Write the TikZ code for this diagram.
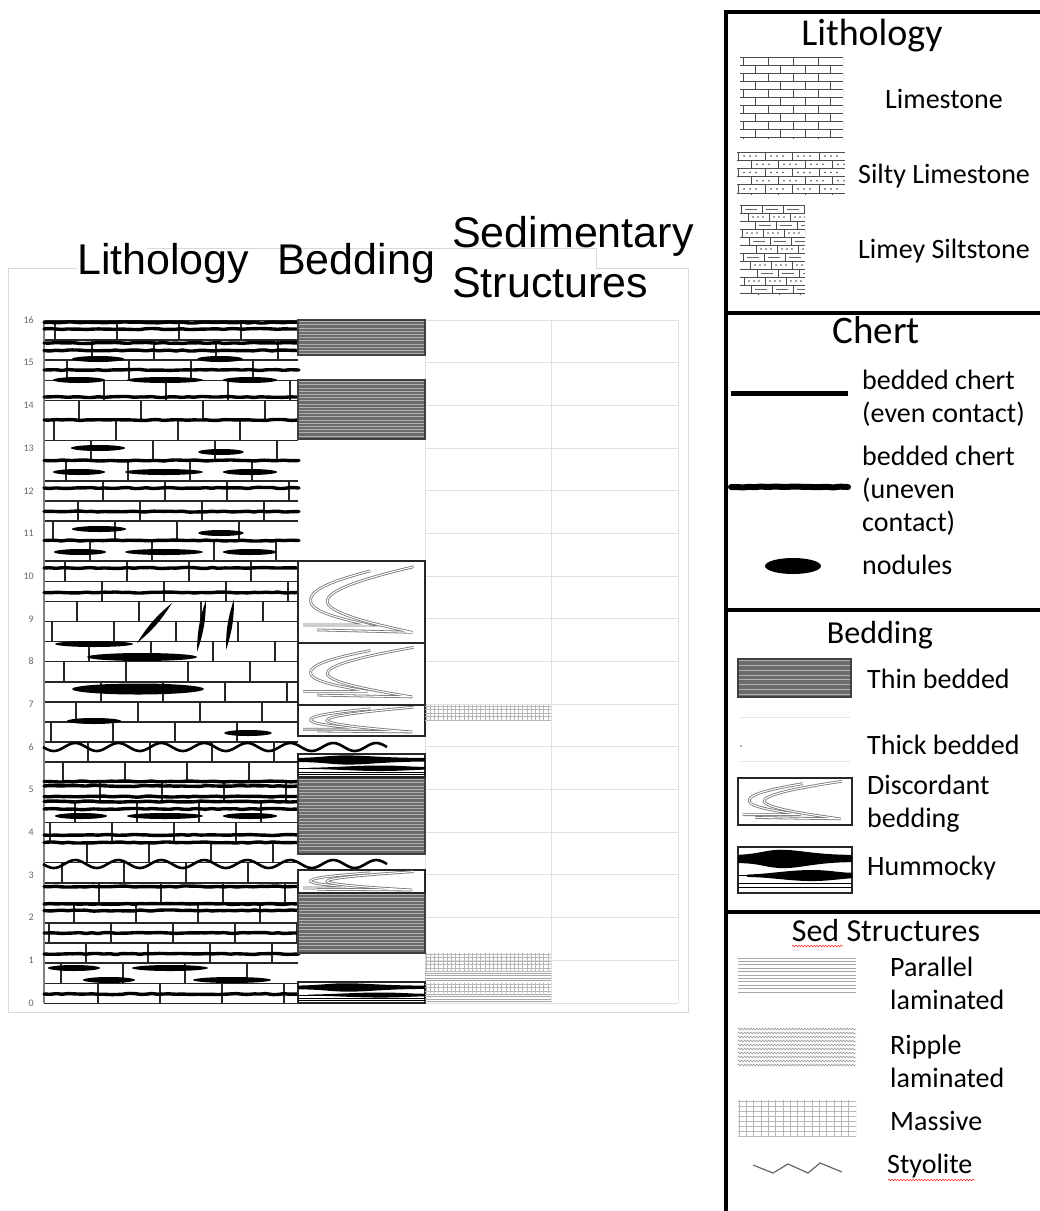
\documentclass[tikz,border=0pt]{standalone}
\usepackage{fontspec}
\setmainfont{Carlito}
\newfontfamily\arialfont{Liberation Sans}
\usetikzlibrary{decorations.pathmorphing}

\tikzset{
  frameline/.style={draw=black!15, line width=0.9},
  gridline/.style={draw=black!12, line width=1},
  brickline/.style={draw=black!85, line width=1.5},
  legbrick/.style={draw=black!70, line width=0.7},
  chertbed/.style={line width=3.4, line cap=round, rounded corners=1.5pt, decorate,
    decoration={random steps, segment length=6pt, amplitude=0.6pt}},
  nodule/.style={fill=black},
  wavyline/.style={line width=2.6, draw=black},
  thinframe/.style={draw=black!75, line width=1.4},
  discframe/.style={draw=black!85, line width=1.4, fill=white},
  discline/.style={draw=black!55, double=white, double distance=1.1pt, line width=0.8},
  hummockframe/.style={draw=black!85, line width=1.4, fill=white},
  massive/.style={draw=black!28, line width=0.5},
  lamina/.style={draw=black!35, line width=0.9},
  legendbox/.style={line width=4.5},
  headtext/.style={font=\arialfont\fontsize{43}{50}\selectfont, anchor=base west, inner sep=0pt},
  axislabel/.style={font=\fontsize{10}{12}\selectfont, text=black!60, anchor=east, inner sep=0pt},
  legtitle/.style={font=\fontsize{38}{44}\selectfont, anchor=base, inner sep=0pt},
  legtext/.style={font=\fontsize{28}{33}\selectfont, anchor=west, align=left, inner sep=0pt},
  squiggle/.style={draw=red!80, line width=0.6, decorate,
    decoration={snake, segment length=3pt, amplitude=0.8pt}},
}

% gray thin-bedded fill with light laminae
\newcommand\thinbedpatch[5]{%
  \begin{scope}
    \clip (#1,#2) rectangle (#3,#4);
    \fill[black!58] (#1,#2) rectangle (#3,#4);
    \foreach \k in {0,...,40}
      \draw[black!30, line width=0.7] (#1,{#2+1.5+\k*#5}) -- (#3,{#2+1.5+\k*#5});
  \end{scope}
  \draw[thinframe] (#1,#2) rectangle (#3,#4);}

% massive = fine gray mesh
\newcommand\massivepatch[6]{%
  \begin{scope}
    \clip (#1,#2) rectangle (#3,#4);
    \foreach \k in {0,...,30}
      \draw[massive] ({#1+1+\k*#5},#2) -- ({#1+1+\k*#5},#4);
    \foreach \k in {0,...,12}
      \draw[massive] (#1,{#2+1+\k*#6}) -- (#3,{#2+1+\k*#6});
  \end{scope}}

\newcommand\parallelpatch[5]{%
  \begin{scope}
    \clip (#1,#2) rectangle (#3,#4);
    \foreach \k in {0,...,14}
      \draw[lamina] (#1,{#2+1+\k*#5}) -- (#3,{#2+1+\k*#5});
  \end{scope}}

% discordant bedding box: x y w h
\newcommand\drawdisc[4]{%
  \begin{scope}[shift={(#1,#2)}, x=#3pt, y=-#4pt]
    \draw[discframe] (0,0) rectangle (1,1);
    \draw[discline] (0.57,0.12) .. controls (0.25,0.25) and (0.08,0.36) .. (0.1,0.5)
      .. controls (0.12,0.64) and (0.4,0.72) .. (0.55,0.78) -- (0.04,0.78);
    \draw[discline] (0.91,0.07) .. controls (0.5,0.22) and (0.22,0.36) .. (0.23,0.5)
      .. controls (0.25,0.66) and (0.7,0.8) .. (0.9,0.87) -- (0.15,0.84);
  \end{scope}}

% hummocky box: x y w h
\newcommand\drawhummock[4]{%
  \begin{scope}[shift={(#1,#2)}, x=#3pt, y=-#4pt]
    \draw[hummockframe] (0,0) rectangle (1,1);
    \draw[line width=0.8] (0,0.24) -- (1,0.24) (0,0.62) -- (1,0.62);
    \fill (0,0.17) .. controls (0.2,0.15) and (0.25,0.05) .. (0.4,0.06)
      .. controls (0.55,0.07) and (0.7,0.17) .. (1,0.17) -- (1,0.33)
      .. controls (0.7,0.33) and (0.55,0.46) .. (0.4,0.46)
      .. controls (0.25,0.46) and (0.2,0.35) .. (0,0.35) -- cycle;
    \fill (0.08,0.6) .. controls (0.3,0.58) and (0.45,0.5) .. (0.65,0.5)
      .. controls (0.8,0.5) and (0.9,0.56) .. (1,0.56) -- (1,0.68)
      .. controls (0.9,0.69) and (0.8,0.74) .. (0.65,0.74)
      .. controls (0.45,0.74) and (0.3,0.66) .. (0.08,0.65) -- cycle;
    \draw[line width=1] (0,0.8) -- (1,0.8);
    \draw[line width=0.7] (0,0.88) -- (1,0.88);
  \end{scope}}

\begin{document}
\begin{tikzpicture}[x=1pt, y=-1pt]
\useasboundingbox (0,0) rectangle (1040,1211);

% chart frame and header box
\draw[frameline] (8,268) rectangle (688,1012);
\fill[white] (77,248) rectangle (596,306);
\draw[frameline] (147,248) -- (596,248) -- (596,268);
\node[headtext] (hlith) at (77,274) {Lithology};
\node[headtext] (hbed) at (277,274) {Bedding};
\node[headtext] (hsed) at (452,247) {Sedimentary};
\node[headtext] (hstruct) at (452,297) {Structures};

% grid behind the empty columns
\foreach \v in {0,...,16}
  \draw[gridline] (425,{1003-\v*42.6875}) -- (678,{1003-\v*42.6875});
\foreach \gx in {425,551,678}
  \draw[gridline] (\gx,320) -- (\gx,1003);
\foreach \v in {0,...,16}
  \node[axislabel] (ylab\v) at (34,{1003-\v*42.6875}) {\v};

% lithology column: limestone bricks
\fill[white] (44,320) rectangle (298,1003);
\begin{scope}
  \clip (44,320) rectangle (298,1003);
  \foreach \r in {0,...,34} {
    \pgfmathsetmacro\yt{320+\r*20.1}
    \pgfmathsetmacro\off{mod(\r*37+11,62)}
    \draw[brickline] (44,\yt) -- (298,\yt);
    \foreach \k in {0,...,4}
      \draw[brickline] ({44+\off+\k*62},\yt) -- ++(0,20.1);
  }
\end{scope}
\draw[brickline, black!50] (44,320) -- (44,1003);

% bedded chert
\pgfmathsetseed{7}
\foreach \cy in {322.5,329,343,350.5,370,397,420,460.5,488,511.5,540.5,568,592.5,
    781.5,786,796.5,801.5,809,835,842.5,886.5,904,910.5,933,954,994}
  \draw[chertbed] (44,\cy) -- (299,\cy);

% chert nodules
\foreach \nx/\ny/\nr in {98/359/26, 220/359/23, 79/380/26, 165/380/38, 250/380/27,
    98/448/27, 221/452/23, 79/472/26, 164/472/39, 250/472/27, 99/529/27, 221/533/23,
    80/552/26, 164/552/39, 250/552/27, 94/644/39, 81/816/26, 165/816/38, 250/816/27,
    74/968/26, 170/968/38, 109/980/26, 232/980/39}
  \fill[nodule] (\nx,\ny) ellipse [x radius=\nr, y radius=3];
\fill[nodule] (142,657) ellipse [x radius=55, y radius=4];
\fill[nodule] (138,689) ellipse [x radius=66, y radius=5.5];
\fill[nodule] (94,721) ellipse [x radius=27, y radius=3];
\fill[nodule] (248,733) ellipse [x radius=24, y radius=3];
\fill[nodule] (137,643) to[bend left=9] (172,603) to[bend left=9] (137,643) -- cycle;
\fill[nodule] (197,652) to[bend left=9] (206,600) to[bend left=9] (197,652) -- cycle;
\fill[nodule] (226,650) to[bend left=9] (234,599) to[bend left=9] (226,650) -- cycle;

% wavy contacts (period 43)
\foreach \wy in {747,864}
  \draw[wavyline] plot[domain=43:387, samples=160, smooth] (\x,{\wy+4*sin((\x-43)*8.372)});

% bedding column
\thinbedpatch{298}{320}{425}{355}{3.2}
\thinbedpatch{298}{380}{425}{439}{3.2}
\thinbedpatch{298}{778}{425}{854}{3.2}
\thinbedpatch{298}{893}{425}{953}{3.2}
\drawdisc{298}{561}{127}{82}
\drawdisc{298}{643}{127}{62}
\drawdisc{298}{705}{127}{31}
\drawdisc{298}{870}{127}{23}
\drawhummock{298}{754}{127}{23}
\drawhummock{298}{982}{127}{21}

% sedimentary structures column
\massivepatch{425}{705}{551}{720}{4.2}{3.5}
\massivepatch{425}{953}{551}{971}{4.2}{3.5}
\parallelpatch{425}{972}{551}{982}{2.5}
\massivepatch{425}{983}{551}{993}{4.2}{3.5}
\parallelpatch{425}{993}{551}{1003}{2.5}

% legend boxes
\draw[legendbox] (726,1211) -- (726,12) -- (1040,12);
\foreach \sy in {313,610,912}
  \draw[legendbox] (726,\sy) -- (1040,\sy);

% legend: lithology
\node[legtitle] (tlith) at (872,45) {Lithology};
\begin{scope}
  \clip (740,56) rectangle (843,138);
  \foreach \r in {0,...,10} {
    \pgfmathsetmacro\yt{57+\r*8}
    \pgfmathsetmacro\off{mod(\r,2)*12.5}
    \draw[legbrick] (740,\yt) -- (843,\yt);
    \foreach \k in {0,...,4}
      \draw[legbrick] ({743+\off+\k*25},\yt) -- ++(0,8);
  }
\end{scope}
\begin{scope}
  \clip (737,151) rectangle (845,194);
  \foreach \r in {0,...,5} {
    \pgfmathsetmacro\yt{152+\r*8.2}
    \pgfmathsetmacro\off{mod(\r,2)*13}
    \draw[legbrick] (737,\yt) -- (845,\yt);
    \foreach \k in {0,...,4} {
      \draw[legbrick] ({738+\off+\k*27},\yt) -- ++(0,8.2);
      \foreach \d in {6,12,18}
        \fill[black!70] ({738+\off+\k*27+\d},{\yt+4.1}) circle (0.9);
    }
  }
\end{scope}
\begin{scope}
  \clip (740,204) rectangle (805,294);
  \foreach \r in {0,...,11} {
    \pgfmathsetmacro\yt{205+\r*8}
    \pgfmathsetmacro\off{mod(\r*7,20)}
    \draw[legbrick] (740,\yt) -- (805,\yt);
    \foreach \k in {0,...,3} {
      \draw[legbrick] ({741+\off+\k*21},\yt) -- ++(0,8);
      \ifodd\r
        \foreach \d in {5,10,15}
          \fill[black!70] ({741+\off+\k*21+\d},{\yt+4}) circle (0.9);
      \else
        \draw[black!60, line width=1] ({745+\off+\k*21},{\yt+4}) -- ++(12,0);
      \fi
    }
  }
\end{scope}
\node[legtext] (limestone) at (885,99) {Limestone};
\node[legtext] (siltylime) at (858,176) {Silty Limestone};
\node[legtext] (limeysilt) at (858,251) {Limey Siltstone};

% legend: chert
\node[legtitle, font=\fontsize{39}{44}\selectfont] (tchert) at (876,343) {Chert};
\draw[line width=5] (731,393) -- (848,393);
\draw[chertbed, line width=6] (731,487) -- (848,487);
\fill[nodule] (793,566) ellipse [x radius=28, y radius=8];
\node[legtext] (evenchert) at (862,398) {bedded chert\\(even contact)};
\node[legtext] (unevenchert) at (862,491) {bedded chert\\(uneven\\contact)};
\node[legtext] (nodules) at (862,565) {nodules};

% legend: bedding
\node[legtitle, font=\fontsize{32}{38}\selectfont] (tbed) at (880,643) {Bedding};
\thinbedpatch{738}{659}{851}{697}{4.8}
\draw[black!10, line width=1] (740,717) -- (850,717) (740,761) -- (850,761);
\fill[black!60] (741,746) circle (0.8);
\drawdisc{738}{778}{114}{47}
\drawhummock{738}{847}{114}{46}
\node[legtext] (thinbed) at (867,679) {Thin bedded};
\node[legtext] (thickbed) at (867,745) {Thick bedded};
\node[legtext] (discbed) at (867,804) {Discordant\\bedding};
\node[legtext] (hummocky) at (867,868) {Hummocky};

% legend: sedimentary structures
\node[legtitle, font=\fontsize{32}{38}\selectfont] (tsed) at (886,941) {Sed Structures};
\draw[squiggle] (792,946) -- (843,946);
\parallelpatch{738}{957}{856}{993}{3.4}
\foreach \r in {0,...,9}
  \draw[black!45, line width=0.5, decorate, decoration={zigzag, segment length=3pt, amplitude=1pt}]
    (738,{1029+\r*4}) -- (856,{1029+\r*4});
\massivepatch{738}{1100}{856}{1136}{7.3}{5}
\draw[black!60, line width=1.2] (753,1165) -- (773,1173) -- (788,1164) -- (808,1173) -- (820,1163) -- (842,1172);
\node[legtext] (parallel) at (890,983) {Parallel\\laminated};
\node[legtext] (ripple) at (890,1061) {Ripple\\laminated};
\node[legtext] (massive) at (890,1121) {Massive};
\node[legtext] (styolite) at (887,1166) {Styolite};
\draw[squiggle] (888,1180) -- (975,1180);
\end{tikzpicture}
\end{document}
